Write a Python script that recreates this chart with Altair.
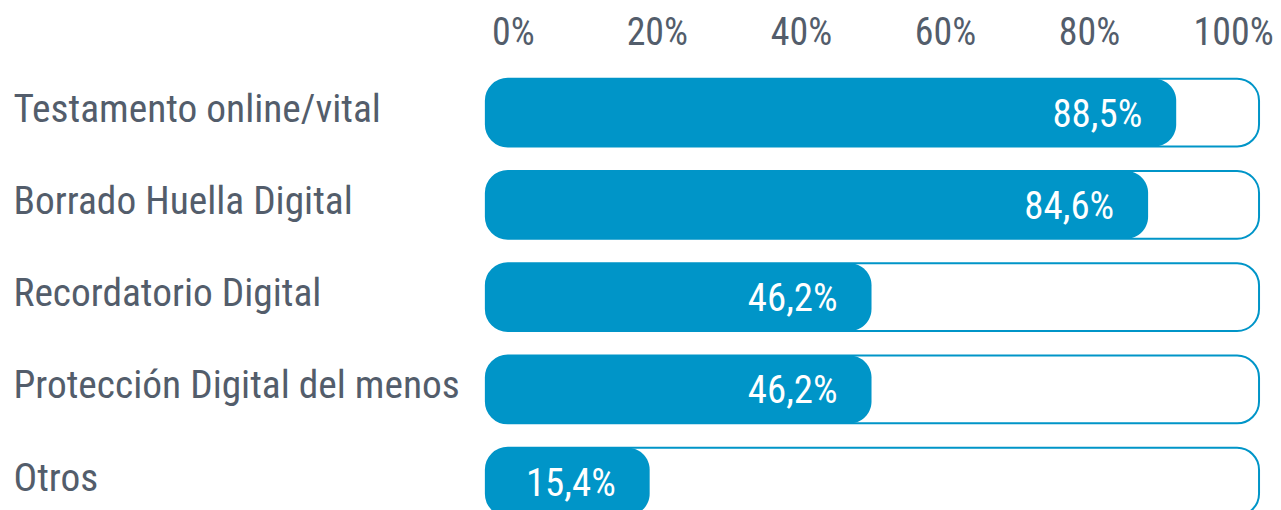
import altair as alt
import pandas as pd

categories = [
    "Testamento online/vital",
    "Borrado Huella Digital",
    "Recordatorio Digital",
    "Protección Digital del menos",
    "Otros",
]
values = [88.5, 84.6, 46.2, 46.2, 15.4]
tick_values = [0, 20, 40, 60, 80, 100]

df = pd.DataFrame({"cat": categories, "value": values})

FONT = "Liberation Sans Narrow, Roboto Condensed, Roboto, sans-serif"
BLUE = "#0095c8"
GRAY = "#535d6b"

xscale = alt.Scale(domain=[0, 100], nice=False, zero=True)
xaxis = alt.Axis(
    orient="top", values=tick_values, labelExpr="datum.value + '%'",
    title=None, grid=False, ticks=False, tickSize=0, domain=False,
    labelFont=FONT, labelFontSize=38, labelColor=GRAY, labelPadding=14,
    labelFlush=False,
)
yenc = alt.Y(
    "cat:N", sort=categories, title=None,
    scale=alt.Scale(range=[0, 462.5], paddingInner=0.265, paddingOuter=0.1325),
    axis=alt.Axis(
        labelAlign="left", labelPadding=501, ticks=False, tickSize=0,
        domain=False, labelFont=FONT, labelFontSize=39.5, labelColor=GRAY,
        labelBaseline="middle", labelOffset=-3, labelLimit=0,
    ),
)

base = alt.Chart(df).transform_calculate(
    zero="0",
    full="100",
    label="replace(format(datum.value, '.1f'), '.', ',') + '%'",
)

bg = base.mark_bar(
    cornerRadius=22, fill="white", stroke=BLUE, strokeWidth=2,
    xOffset=-27, x2Offset=26,
).encode(
    x=alt.X("zero:Q", scale=xscale, axis=xaxis),
    x2="full:Q",
    y=yenc,
)

fg = base.mark_bar(
    cornerRadius=22, color=BLUE, xOffset=-27, x2Offset=26,
).encode(
    x=alt.X("zero:Q", scale=xscale, axis=xaxis),
    x2="value:Q",
    y=yenc,
)

txt = base.mark_text(
    align="right", baseline="middle", dx=-8, dy=2, color="white",
    font=FONT, fontSize=39,
).encode(
    x=alt.X("value:Q", scale=xscale, axis=xaxis),
    y=yenc,
    text="label:N",
)

chart = alt.layer(bg, fg, txt).properties(
    width=722,
    height=444,
    autosize=alt.AutoSizeParams(type="none"),
    padding={"left": 506, "top": 58, "right": 40, "bottom": 0},
).configure_view(stroke=None)

chart.save("out.html", embed_options={"renderer": "svg", "actions": False})
